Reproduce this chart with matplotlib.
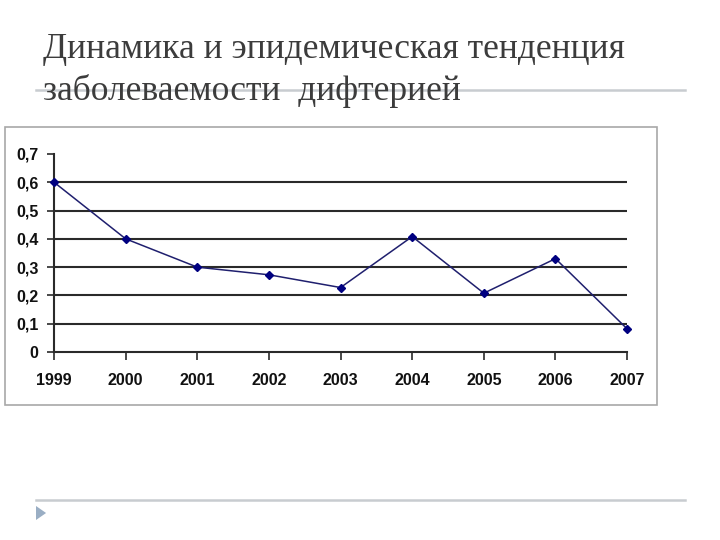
import matplotlib
matplotlib.use("Agg")
import matplotlib.pyplot as plt
from matplotlib.patches import Rectangle, Polygon
from matplotlib.lines import Line2D


# Data
years = ["1999", "2000", "2001", "2002", "2003", "2004", "2005", "2006", "2007"]
values = [0.6, 0.4, 0.3, 0.273, 0.228, 0.408, 0.208, 0.33, 0.082]
yticks = [0, 0.1, 0.2, 0.3, 0.4, 0.5, 0.6, 0.7]
ytick_labels = ["0", "0,1", "0,2", "0,3", "0,4", "0,5", "0,6", "0,7"]
title_lines = ["Динамика и эпидемическая тенденция", "заболеваемости  дифтерией"]


fig = plt.figure(figsize=(7.2, 5.4), dpi=100)
fig.patch.set_facecolor("white")

# slide title
fig.text(0.06, 0.893, title_lines[0], fontsize=25.5, family="Liberation Serif", color="#3c3c3c")
fig.text(0.06, 0.815, title_lines[1], fontsize=25.5, family="Liberation Serif", color="#3c3c3c")

# slide decorations
fig.add_artist(Line2D([0.05, 0.951], [0.833, 0.833], color="#c8ccd0", linewidth=1.8))
fig.add_artist(Line2D([0.05, 0.951], [0.074, 0.074], color="#c8ccd0", linewidth=1.8))
fig.add_artist(Polygon([[0.05, 0.063], [0.05, 0.037], [0.064, 0.05]], closed=True,
                       facecolor="#9aaec4", edgecolor="none"))

# chart frame
fig.add_artist(Rectangle((0.007, 0.25), 0.9055, 0.515, fill=False, edgecolor="#a8a8a8", linewidth=1.2))

ax = fig.add_axes([0.075, 0.348, 0.796, 0.367])
x = list(range(len(years)))

for v in yticks[1:-1]:
    ax.axhline(v, color="#2a2a2a", linewidth=1.5, zorder=1)

ax.plot(x, values, color="#1f1f6e", linewidth=1.1, marker="D", markersize=4.5,
        markerfacecolor="#000080", markeredgecolor="#000080", zorder=3, clip_on=False)

ax.set_xlim(0, len(years) - 1)
ax.set_ylim(0, 0.7)
ax.set_xticks(x)
ax.set_xticklabels(years)
ax.set_yticks(yticks)
ax.set_yticklabels(ytick_labels)

for s in ["top", "right"]:
    ax.spines[s].set_visible(False)
ax.spines["left"].set_color("#2a2a2a")
ax.spines["bottom"].set_color("#2a2a2a")
ax.spines["left"].set_linewidth(1.5)
ax.spines["bottom"].set_linewidth(1.5)

ax.tick_params(axis="x", direction="out", length=6, width=1.2, color="#2a2a2a", pad=9)
ax.tick_params(axis="y", direction="out", length=5, width=1.2, color="#2a2a2a", pad=6)
for lab in ax.get_xticklabels() + ax.get_yticklabels():
    lab.set_fontsize(11.5)
    lab.set_fontweight("bold")
    lab.set_family("Liberation Sans")
    lab.set_color("#111111")

fig.savefig("out.png", dpi=100)
